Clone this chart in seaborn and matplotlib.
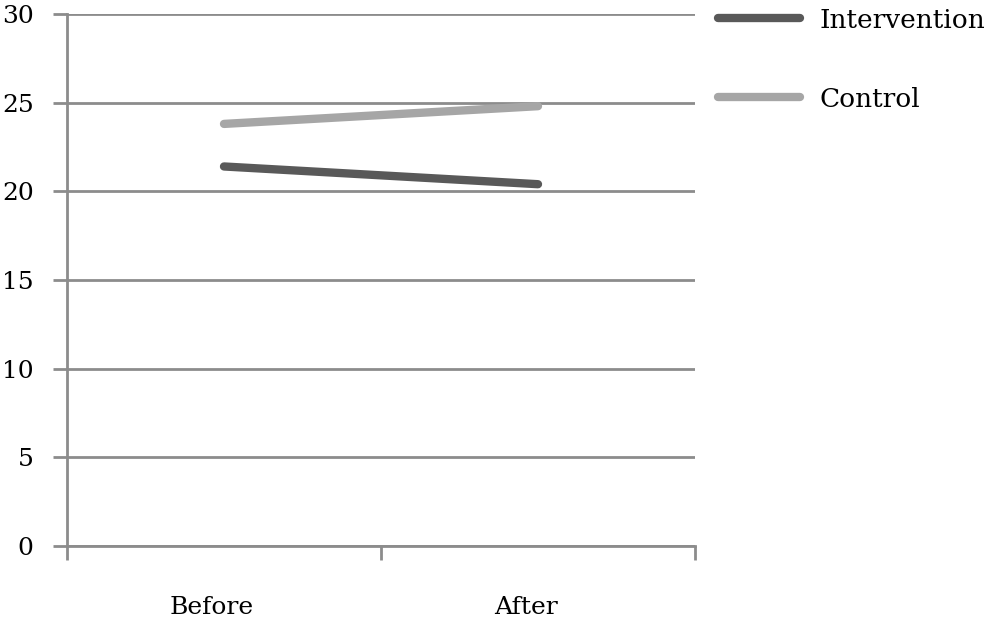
import pandas as pd
import matplotlib
matplotlib.use("Agg")
import matplotlib.pyplot as plt
import matplotlib.transforms as mtransforms
import seaborn as sns

# valores
momentos = ["Before", "After"]
intervencao = [21.4, 20.4]
controle = [23.8, 24.8]
grupos = ["Intervention", "Control"]
cores = {"Intervention": "#595959", "Control": "#a6a6a6"}
y_ticks = [0, 5, 10, 15, 20, 25, 30]

df = pd.DataFrame({
    "momento": momentos * 2,
    "valor": intervencao + controle,
    "grupo": [grupos[0]] * 2 + [grupos[1]] * 2,
})

sns.set_theme(style="white")
plt.rcParams["font.family"] = ["DejaVu Serif"]
plt.rcParams["text.color"] = "black"

fig = plt.figure(figsize=(10, 6.23), dpi=100)
ax = fig.add_axes([0.067, 0.1236, 0.628, 0.854])

sns.lineplot(data=df, x="momento", y="valor", hue="grupo", palette=cores,
             linewidth=6, ax=ax, legend=False, solid_capstyle="round", sort=False)

cinza = "#8c8c8c"
ax.set_ylim(0, 30)
ax.set_yticks(y_ticks)
ax.set_xlim(-0.5, 1.5)
ax.set_xticks([-0.5, 0.5, 1.5])
ax.set_xticklabels([])
ax.set_xticks([0, 1], minor=True)
ax.set_xticklabels(momentos, minor=True)
ax.yaxis.grid(True, color=cinza, linewidth=2)
ax.set_axisbelow(True)

for lado in ["top", "right"]:
    ax.spines[lado].set_visible(False)
for lado in ["left", "bottom"]:
    ax.spines[lado].set_color(cinza)
    ax.spines[lado].set_linewidth(2)

ax.tick_params(axis="y", which="major", left=True, length=10, width=2, color=cinza,
               labelsize=18, pad=14, labelcolor="black")
ax.tick_params(axis="x", which="major", bottom=True, length=10, width=2, color=cinza)
ax.tick_params(axis="x", which="minor", bottom=False, length=0, labelsize=18, pad=36,
               labelcolor="black")
desloca = mtransforms.ScaledTranslation(-12 / 100, 0, fig.dpi_scale_trans)
for rotulo in ax.get_xticklabels(minor=True):
    rotulo.set_transform(rotulo.get_transform() + desloca)
ax.set_xlabel("")
ax.set_ylabel("")

handles = [plt.Line2D([], [], color=cores[g], linewidth=6, solid_capstyle="round") for g in grupos]
fig.legend(handles, grupos, loc="upper left", bbox_to_anchor=(0.694, 1.026),
           frameon=False, fontsize=19, handlelength=3.1, handletextpad=0.75,
           labelspacing=2.05, labelcolor="black")

fig.savefig("out.png", dpi=100)
